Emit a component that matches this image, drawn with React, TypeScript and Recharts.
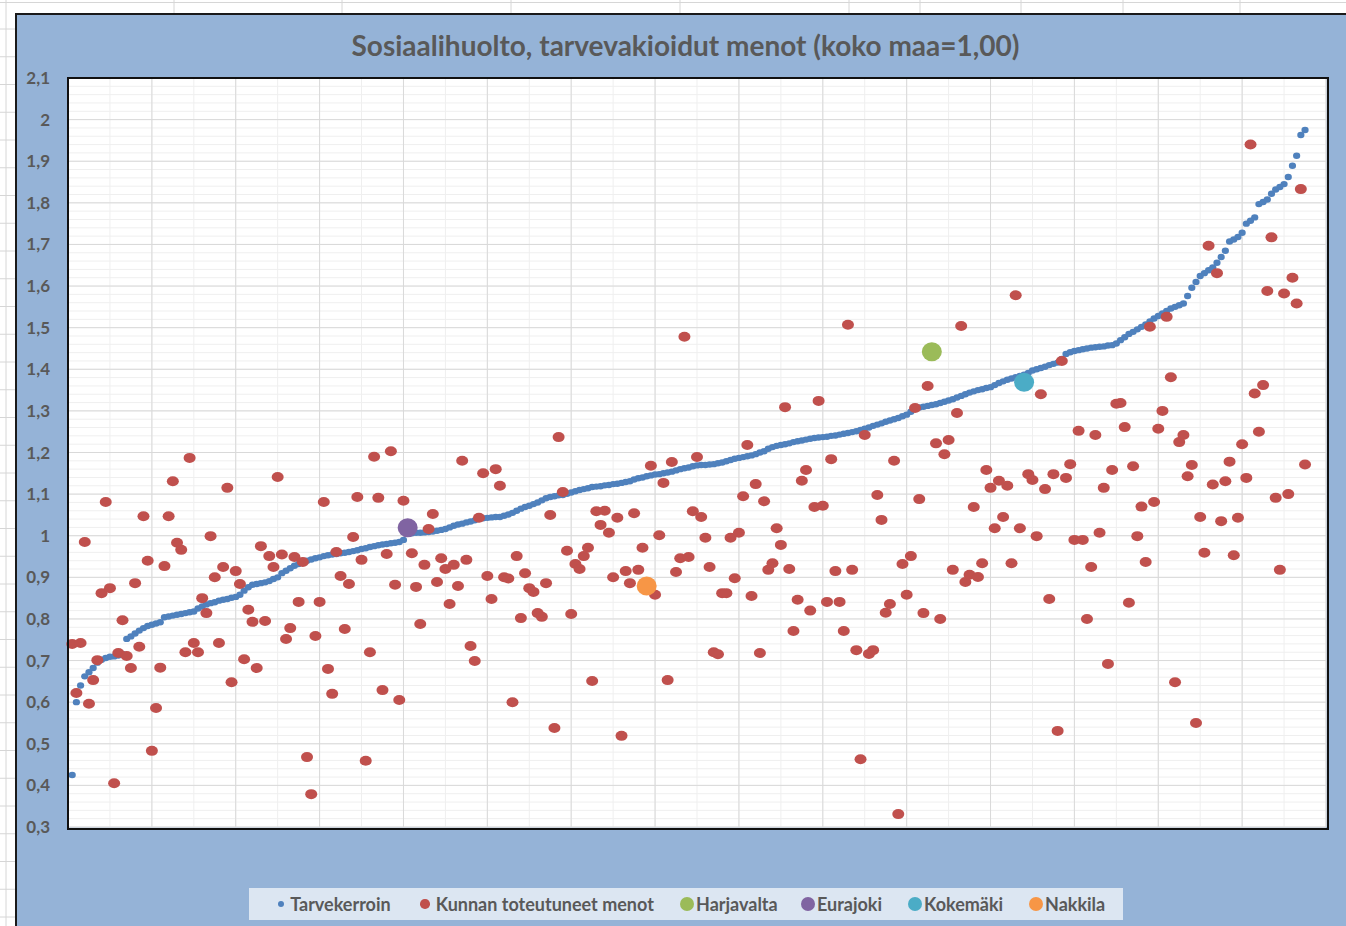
import React from 'react';
import { ScatterChart, Scatter, XAxis, YAxis, CartesianGrid } from 'recharts';

// Tarvekerroin, sorted ascending (one value per municipality, x = 1..295)
const tarvekerroin = [
  0.425, 0.6, 0.64, 0.662, 0.672, 0.682, 0.695, 0.702, 0.706, 0.709,
  0.71, 0.712, 0.716, 0.752, 0.758, 0.765, 0.772, 0.778, 0.783, 0.786,
  0.789, 0.792, 0.804, 0.806, 0.808, 0.81, 0.812, 0.814, 0.816, 0.818,
  0.825, 0.83, 0.835, 0.838, 0.84, 0.844, 0.846, 0.848, 0.851, 0.853,
  0.858, 0.868, 0.876, 0.882, 0.884, 0.886, 0.888, 0.891, 0.896, 0.9,
  0.91, 0.916, 0.922, 0.928, 0.932, 0.936, 0.94, 0.943, 0.946, 0.948,
  0.951, 0.953, 0.955, 0.956, 0.958, 0.959, 0.961, 0.963, 0.965, 0.968,
  0.97, 0.973, 0.975, 0.977, 0.979, 0.98, 0.982, 0.983, 0.985, 0.99,
  1.005, 1.006, 1.007, 1.007, 1.008, 1.009, 1.01, 1.012, 1.014, 1.016,
  1.02, 1.024, 1.027, 1.029, 1.032, 1.034, 1.037, 1.04, 1.042, 1.043,
  1.044, 1.045, 1.045, 1.048, 1.051, 1.055, 1.06, 1.065, 1.069, 1.072,
  1.076, 1.08, 1.085, 1.09, 1.093, 1.095, 1.097, 1.098, 1.101, 1.104,
  1.107, 1.11, 1.112, 1.114, 1.117, 1.118, 1.119, 1.121, 1.122, 1.124,
  1.125, 1.127, 1.129, 1.131, 1.135, 1.138, 1.14, 1.143, 1.145, 1.147,
  1.148, 1.15, 1.152, 1.154, 1.157, 1.16, 1.162, 1.164, 1.167, 1.169,
  1.17, 1.17, 1.171, 1.172, 1.174, 1.176, 1.179, 1.182, 1.185, 1.187,
  1.189, 1.191, 1.193, 1.196, 1.2, 1.203, 1.209, 1.213, 1.216, 1.218,
  1.22, 1.222, 1.225, 1.227, 1.229, 1.231, 1.233, 1.235, 1.236, 1.237,
  1.238, 1.24, 1.241, 1.243, 1.245, 1.247, 1.249, 1.251, 1.254, 1.257,
  1.26, 1.264, 1.267, 1.27, 1.274, 1.277, 1.28, 1.283, 1.287, 1.291,
  1.298, 1.305, 1.308, 1.31, 1.312, 1.314, 1.316, 1.319, 1.322, 1.325,
  1.328, 1.332, 1.336, 1.34, 1.344, 1.347, 1.35, 1.352, 1.355, 1.357,
  1.362, 1.367, 1.371, 1.375, 1.378, 1.381, 1.384, 1.387, 1.391, 1.397,
  1.4, 1.403, 1.406, 1.41, 1.413, 1.416, 1.425, 1.437, 1.441, 1.444,
  1.446, 1.448, 1.45, 1.452, 1.453, 1.454, 1.455, 1.457, 1.458, 1.462,
  1.47, 1.477, 1.485, 1.49, 1.496, 1.502, 1.508, 1.515, 1.522, 1.528,
  1.534, 1.54, 1.546, 1.55, 1.554, 1.558, 1.576, 1.596, 1.61, 1.624,
  1.631, 1.638, 1.645, 1.656, 1.67, 1.685, 1.707, 1.712, 1.718, 1.728,
  1.75, 1.757, 1.765, 1.797, 1.802, 1.808, 1.822, 1.832, 1.838, 1.845,
  1.862, 1.889, 1.913, 1.963, 1.975,
];

// Kunnan toteutuneet menot, same municipality order
const menot = [
  0.74, 0.622, 0.742, 0.985, 0.596, 0.653, 0.701, 0.862, 1.081, 0.874,
  0.405, 0.718, 0.797, 0.711, 0.682, 0.886, 0.733, 1.047, 0.94, 0.483,
  0.586, 0.683, 0.927, 1.047, 1.131, 0.983, 0.966, 0.72, 1.187, 0.742,
  0.72, 0.85, 0.814, 0.999, 0.9, 0.742, 0.925, 1.115, 0.648, 0.915,
  0.884, 0.703, 0.822, 0.793, 0.682, 0.975, 0.795, 0.951, 0.925, 1.141,
  0.955, 0.752, 0.778, 0.949, 0.841, 0.937, 0.468, 0.379, 0.759, 0.841,
  1.081, 0.68, 0.62, 0.961, 0.903, 0.776, 0.884, 0.997, 1.093, 0.942,
  0.459, 0.72, 1.19, 1.091, 0.629, 0.956, 1.203, 0.882, 0.605, 1.084,
  1.019, 0.958, 0.877, 0.788, 0.93, 1.016, 1.052, 0.889, 0.946, 0.92,
  0.836, 0.93, 0.879, 1.18, 0.942, 0.735, 0.699, 1.043, 1.15, 0.903,
  0.848, 1.16, 1.12, 0.9, 0.897, 0.6, 0.951, 0.802, 0.91, 0.874,
  0.865, 0.814, 0.805, 0.886, 1.05, 0.538, 1.237, 1.105, 0.964, 0.812,
  0.932, 0.92, 0.951, 0.971, 0.651, 1.059, 1.026, 1.06, 1.007, 0.9,
  1.043, 0.519, 0.915, 0.886, 1.054, 0.918, 0.971, 0.879, 1.168, 0.858,
  1.001, 1.127, 0.653, 1.177, 0.913, 0.946, 1.478, 0.949, 1.059, 1.189,
  1.045, 0.995, 0.925, 0.72, 0.715, 0.862, 0.862, 0.995, 0.898, 1.007,
  1.095, 1.218, 0.855, 1.124, 0.718, 1.083, 0.918, 0.934, 1.018, 0.978,
  1.309, 0.92, 0.771, 0.846, 1.132, 1.158, 0.82, 1.069, 1.324, 1.072,
  0.841, 1.184, 0.915, 0.841, 0.771, 1.507, 0.918, 0.725, 0.463, 1.242,
  0.716, 0.725, 1.098, 1.038, 0.815, 0.836, 1.18, 0.331, 0.932, 0.858,
  0.951, 1.307, 1.088, 0.814, 1.36, 1.442, 1.222, 0.8, 1.196, 1.23,
  0.918, 1.295, 1.504, 0.889, 0.906, 1.069, 0.901, 0.934, 1.158, 1.115,
  1.018, 1.132, 1.045, 1.12, 0.934, 1.578, 1.018, 1.369, 1.148, 1.134,
  0.999, 1.34, 1.112, 0.848, 1.148, 0.531, 1.42, 1.139, 1.172, 0.99,
  1.252, 0.99, 0.8, 0.925, 1.242, 1.007, 1.115, 0.692, 1.158, 1.317,
  1.319, 1.261, 0.839, 1.167, 0.999, 1.07, 0.937, 1.502, 1.081, 1.257,
  1.3, 1.526, 1.381, 0.648, 1.225, 1.242, 1.143, 1.17, 0.55, 1.045,
  0.959, 1.697, 1.123, 1.631, 1.035, 1.131, 1.178, 0.953, 1.043, 1.22,
  1.139, 1.94, 1.342, 1.25, 1.362, 1.588, 1.717, 1.091, 0.918, 1.582,
  1.1, 1.62, 1.558, 1.833, 1.171,
];

// highlighted municipalities
const kunnat = ['Harjavalta', 'Eurajoki', 'Kokemäki', 'Nakkila'];
const kunnatX = [206, 81, 228, 138];
const kunnatY = [1.442, 1.019, 1.369, 0.879];

const yTicks = [0.3, 0.4, 0.5, 0.6, 0.7, 0.8, 0.9, 1, 1.1, 1.2, 1.3, 1.4, 1.5, 1.6, 1.7, 1.8, 1.9, 2, 2.1];
const xMajor = [0, 20, 40, 60, 80, 100, 120, 140, 160, 180, 200, 220, 240, 260, 280, 300];

const BLUE = '#4F81BD';
const RED = '#C0504D';
const KUNTA_COLORS = ['#9BBB59', '#8064A2', '#4BACC6', '#F79646'];
const TEXT = '#595959';
const FONT = 'Lato, "Open Sans", sans-serif';

const minorY: number[] = [];
for (let k = 0; k <= 90; k++) minorY.push(Math.round((0.3 + k * 0.02) * 1000) / 1000);
const minorX: number[] = [];
for (let k = 0; k <= 30; k++) minorX.push(k * 10);

const blueData = tarvekerroin.map((v, i) => ({ x: i + 1, y: v }));
const redData = menot.map((v, i) => ({ x: i + 1, y: v }));

const fmt = (v: number) => {
  const r = Math.round(v * 10) / 10;
  return Number.isInteger(r) ? String(r) : r.toFixed(1).replace('.', ',');
};

const dot = (rx: number, ry: number, fill: string) => (p: any) =>
  <ellipse cx={p.cx} cy={p.cy} rx={rx} ry={ry} fill={fill} />;

// excel cell lines peeking around the chart
const colLines = [174, 342, 511, 680, 849, 920, 1021, 1123, 1240];
const rowLines: number[] = [];
for (let k = 0; k < 33; k++) rowLines.push(29 + k * 27.75);

const legendItems = [
  { name: 'Tarvekerroin', color: BLUE, r: 3.2, left: 32 },
  { name: 'Kunnan toteutuneet menot', color: RED, r: 4.8, left: 176 },
  ...kunnat.map((n, i) => ({ name: n, color: KUNTA_COLORS[i], r: 7, left: [438, 559, 666, 787][i] })),
];

export default function App() {
  return (
    <div style={{ position: 'absolute', left: 0, top: 0, width: 1346, height: 926, overflow: 'hidden', background: '#fff', fontFamily: FONT }}>
      <svg width={1346} height={926} style={{ position: 'absolute', left: 0, top: 0 }}>
        <line x1={0} x2={1346} y1={2.5} y2={2.5} stroke="#D6D6D6" />
        {colLines.map((x) => <line key={x} x1={x} x2={x} y1={0} y2={14} stroke="#D6D6D6" />)}
        <line x1={6} x2={6} y1={0} y2={926} stroke="#D6D6D6" />
        {rowLines.map((y) => <line key={y} x1={0} x2={15} y1={y} y2={y} stroke="#D6D6D6" />)}
      </svg>
      <div style={{ position: 'absolute', left: 15, top: 13, width: 1346, height: 926, background: '#95B3D7', borderTop: '2px solid #1a1a1a', borderLeft: '2px solid #1a1a1a' }} />
      <div style={{ position: 'absolute', left: 15, top: 28, width: 1341, textAlign: 'center', fontSize: 28, lineHeight: '34px', fontWeight: 700, color: TEXT }}>
        Sosiaalihuolto, tarvevakioidut menot (koko maa=1,00)
      </div>
      <div style={{ position: 'absolute', left: 0, top: 0 }}>
        <ScatterChart width={1346} height={926} margin={{ top: 78, right: 20, bottom: 99, left: 0 }}>
          <CartesianGrid horizontalValues={minorY} verticalValues={minorX} stroke="#EFEFEF" fill="#FFFFFF" fillOpacity={1} />
          <CartesianGrid horizontalValues={yTicks} verticalValues={xMajor} stroke="#D9D9D9" />
          <XAxis type="number" dataKey="x" domain={[0, 300]} ticks={xMajor} hide />
          <YAxis
            type="number"
            dataKey="y"
            domain={[0.3, 2.1]}
            ticks={yTicks}
            interval={0}
            width={68}
            axisLine={false}
            tickLine={false}
            tickSize={0}
            tickMargin={18}
            tickFormatter={fmt}
            tick={{ fill: TEXT, fontSize: 17, fontWeight: 700, fontFamily: FONT }}
          />
          <Scatter name="Tarvekerroin" data={blueData} shape={dot(3.6, 3.2, BLUE)} isAnimationActive={false} />
          <Scatter name="Kunnan toteutuneet menot" data={redData} shape={dot(6, 5, RED)} isAnimationActive={false} />
          {kunnat.map((n, i) => (
            <Scatter key={n} name={n} data={[{ x: kunnatX[i], y: kunnatY[i] }]} shape={dot(10, 9.5, KUNTA_COLORS[i])} isAnimationActive={false} />
          ))}
        </ScatterChart>
      </div>
      <div style={{ position: 'absolute', left: 67, top: 77, width: 1258, height: 749, border: '2px solid #111', pointerEvents: 'none' }} />
      <div style={{ position: 'absolute', left: 249, top: 888, width: 874, height: 32, background: '#DCE6F2' }}>
        {legendItems.map((it) => (
          <div key={it.name} style={{ position: 'absolute', left: it.left - it.r, top: 0, height: 32, display: 'flex', alignItems: 'center', whiteSpace: 'nowrap' }}>
            <span style={{ display: 'inline-block', width: it.r * 2, height: it.r * 2, borderRadius: '50%', background: it.color, marginRight: it.r > 5 ? 2 : 6 }} />
            <span style={{ fontSize: 18, fontWeight: 700, color: TEXT }}>{it.name}</span>
          </div>
        ))}
      </div>
    </div>
  );
}
